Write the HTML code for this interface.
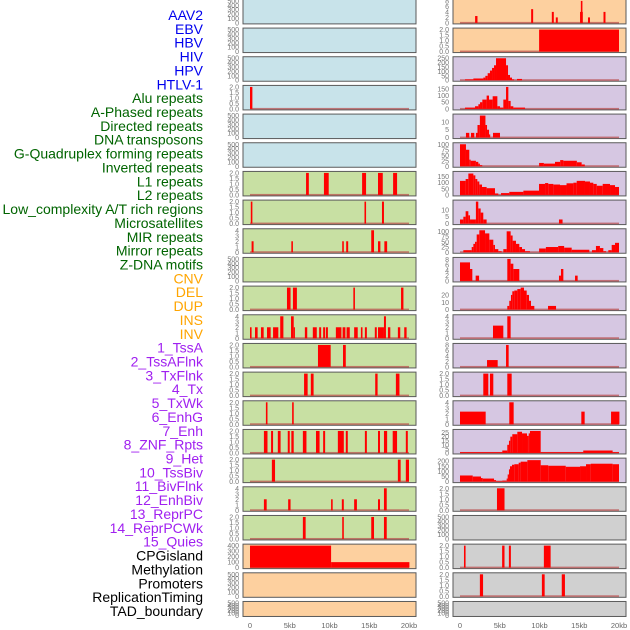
<!DOCTYPE html>
<html><head><meta charset="utf-8">
<style>
html,body{margin:0;padding:0;background:#fff;}
svg{display:block;font-family:"Liberation Sans",sans-serif;}
</style></head>
<body>
<svg id="chart" width="630" height="630" viewBox="0 0 630 630" xmlns="http://www.w3.org/2000/svg"></svg>
<script>
const trackLabels = ["AAV2","EBV","HBV","HIV","HPV","HTLV-1","Alu repeats","A-Phased repeats","Directed repeats","DNA transposons","G-Quadruplex forming repeats","Inverted repeats","L1 repeats","L2 repeats","Low_complexity A/T rich regions","Microsatellites","MIR repeats","Mirror repeats","Z-DNA motifs","CNV","DEL","DUP","INS","INV","1_TssA","2_TssAFlnk","3_TxFlnk","4_Tx","5_TxWk","6_EnhG","7_Enh","8_ZNF_Rpts","9_Het","10_TssBiv","11_BivFlnk","12_EnhBiv","13_ReprPC","14_ReprPCWk","15_Quies","CPGisland","Methylation","Promoters","ReplicationTiming","TAD_boundary"];
const labelColors = ["#0000ee","#0000ee","#0000ee","#0000ee","#0000ee","#0000ee","#006400","#006400","#006400","#006400","#006400","#006400","#006400","#006400","#006400","#006400","#006400","#006400","#006400","#ffa500","#ffa500","#ffa500","#ffa500","#ffa500","#a020f0","#a020f0","#a020f0","#a020f0","#a020f0","#a020f0","#a020f0","#a020f0","#a020f0","#a020f0","#a020f0","#a020f0","#a020f0","#a020f0","#a020f0","#000","#000","#000","#000","#000"];
const xTickValues = [0,5,10,15,20];
const xTickLabels = ["0","5kb","10kb","15kb","20kb"];

const leftBg = ["b","b","b","b","b","b","g","g","g","g","g","g","g","g","g","g","g","g","g","p","p","p"];
const rightBg = ["p","p","v","v","v","v","v","v","v","v","v","v","v","v","v","v","v","n","n","n","n","n"];

const T500 = [0,100,200,300,400,500];
const T2 = [0,0.5,1,1.5,2];
const T4 = [0,1,2,3,4];
const leftTicks = [T500,T500,T500,T2,T500,T500,T2,T2,T4,T500,T2,T4,T2,T2,T2,T2,T2,T4,T2,[0,100,200,300,400],T500,T500];
const leftYmax = [500,500,500,2,500,500,2,2,4,500,2,4,2,2,2,2,2,4,2,400,500,500];
const rightTicks = [[0,2,4,6,8],T2,[0,50,100,150,200,250],[0,50,100,150],[0,5,10],[0,25,50,75,100],[0,50,100,150],[0,5,10],[0,25,50,75,100],[0,2,4,6,8],[0,10,20],T4,[0,2,4,6,8],T2,T4,[0,5,10,15,20,25],[0,50,100,150,200],T2,T500,T2,T2,T500];
const rightYmax = [8,2,250,165,14,100,180,16,105,8.3,30,4,8,2,4,27,215,2,500,2,2,500];

const leftSegments = [
 [],[],[],
 [[0,0.3,2]],
 [],[],
 [[7.05,7.4,2],[9.3,9.9,2],[14.1,14.6,2],[16.1,16.7,2],[18.0,18.5,2]],
 [[0.1,0.3,2],[14.4,14.6,2],[16.6,16.85,2]],
 [[0.2,0.45,2],[5.2,5.4,2],[11.6,11.8,2],[12.1,12.35,2],[15.25,15.6,4],[16.1,16.4,2],[16.9,17.25,2]],
 [],
 [[4.65,5.1,2],[5.4,5.9,2],[13.0,13.2,2],[19.0,19.3,2]],
 [[0,0.2,2],[0.63,0.96,2],[1.38,1.72,2],[2.14,2.6,2],[2.9,3.56,2],[3.8,4.2,4],[5.16,5.5,4],[5.5,5.58,2],[6.9,7.2,2],[7.9,8.4,2],[8.7,8.95,2],[9.2,9.45,2],[9.55,9.8,2],[10.8,11.5,2],[11.65,12.0,2],[12.15,12.55,2],[13.1,13.55,2],[13.95,14.15,2],[14.45,14.7,2],[15.7,15.95,2],[16.1,16.85,2],[16.85,17.1,4],[17.35,17.65,2],[18.6,18.9,2],[19.4,19.7,2]],
 [[8.55,10.15,2],[11.7,12.05,2]],
 [[6.8,7.25,2],[7.65,8.0,2],[15.75,16.05,2],[18.35,18.8,2]],
 [[2.0,2.2,2],[5.3,5.5,2]],
 [[1.75,2.2,2],[2.65,2.9,2],[3.5,3.85,2],[4.75,5.0,2],[5.2,5.5,2],[6.65,7.1,2],[8.3,8.75,2],[9.2,9.45,2],[11.05,11.8,2],[12.05,12.3,2],[14.45,14.7,2],[16.1,16.35,2],[16.85,17.25,2],[17.95,18.5,2],[19.6,19.85,2]],
 [[2.75,3.15,2],[18.6,18.95,2],[19.6,20.0,2]],
 [[1.75,2.1,2],[4.8,5.1,2],[10.2,10.4,2],[11.55,11.8,2],[13.1,13.45,2],[16.1,16.35,2],[16.85,17.2,4]],
 [[6.65,7.0,2],[11.6,11.8,2],[15.25,15.6,2],[16.85,17.2,2]],
 [[0,10.2,400],[10.2,20.05,100]],
 [],[]
];

const rightSegments = [
 [[1.9,2.2,2.5],[8.95,9.2,5],[11.55,11.8,4],[12.05,12.3,2],[15.1,15.45,4],[15.2,15.4,8],[16.1,16.35,2],[18.05,18.3,4]],
 [[9.95,20.0,2]],
 [[0.63,1.68,10],[1.68,2.93,20],[2.93,3.19,30],[3.19,3.48,50],[3.48,3.77,80],[3.77,4.03,110],[4.03,4.28,140],[4.28,4.53,170],[4.53,5.79,250],[5.79,6.04,170],[6.04,6.29,60],[6.29,6.54,30],[6.54,6.8,10],[7.17,7.8,15]],
 [[0.63,1.89,10],[1.89,2.31,20],[2.31,2.52,35],[2.52,2.81,50],[2.81,3.35,70],[3.35,3.65,100],[3.65,4.11,70],[4.11,4.7,95],[4.7,5.03,20],[5.03,5.45,10],[5.45,5.79,70],[5.79,6.08,165],[6.08,6.37,60],[6.37,6.71,20],[6.71,8.18,10]],
 [[0.75,1.17,3],[1.38,1.8,3],[2.0,2.2,3],[2.2,2.5,8],[2.5,3.2,14],[3.2,3.4,8],[3.4,3.65,5],[3.65,3.8,2],[4.15,5.03,3]],
 [[0,0.75,100],[0.75,1.17,75],[1.17,1.34,30],[1.34,2.0,25],[2.0,2.3,20],[2.3,2.5,12],[2.5,2.8,5],[9.95,10.55,15],[10.55,11.95,12],[11.95,12.6,20],[12.6,13.0,28],[13.0,14.7,25],[14.7,15.3,18],[15.3,15.7,8]],
 [[0,0.71,115],[0.71,1.05,130],[1.05,1.68,175],[1.68,1.93,160],[1.93,2.18,130],[2.18,2.43,110],[2.43,2.77,85],[2.77,3.35,65],[3.35,4.4,55],[4.4,4.82,12],[5.16,6.2,15],[6.2,7.97,25],[7.97,9.94,35],[9.94,10.7,90],[10.7,11.1,97],[11.1,11.74,90],[11.74,12.58,85],[12.58,13.4,80],[13.4,14.26,95],[14.26,14.68,100],[14.68,15.72,115],[15.72,16.35,110],[16.35,16.77,100],[16.77,17.2,90],[17.2,17.95,75],[17.95,18.87,90],[18.87,19.5,80],[19.5,20.0,65]],
 [[0,0.42,3],[0.42,0.71,5],[0.71,1.05,9],[1.05,1.26,6],[1.26,2.0,3],[2.0,2.3,16],[2.3,2.6,11],[2.6,2.93,8],[2.93,3.35,3],[12.45,12.9,3]],
 [[0.42,1.47,10],[1.47,1.68,25],[1.68,1.89,40],[1.89,2.1,50],[2.1,2.43,85],[2.43,3.15,105],[3.15,3.69,90],[3.69,4.19,60],[4.19,4.4,35],[4.4,4.82,15],[4.82,5.24,5],[5.45,5.87,15],[5.87,6.37,100],[6.37,6.62,80],[6.62,7.04,55],[7.04,7.46,40],[7.46,7.8,25],[7.8,8.18,15],[8.18,8.8,5],[9.95,10.8,18],[10.8,12.35,25],[12.35,13.1,30],[13.1,14.05,22],[14.05,16.27,12],[16.6,17.1,10],[17.1,17.6,30],[17.6,18.03,20],[18.03,18.37,5],[18.66,19.08,10],[19.08,19.5,35],[19.5,20.0,45]],
 [[0,1.26,7],[1.26,1.55,4.5],[1.97,2.4,2],[5.95,6.37,8.3],[6.37,6.71,6.5],[6.71,7.46,4.5],[12.45,12.7,2],[12.7,13.0,4.5],[14.47,14.8,2]],
 [[5.95,6.2,5],[6.2,6.41,12],[6.41,6.58,20],[6.58,6.83,25],[6.83,7.21,26],[7.21,7.63,28],[7.63,8.05,30],[8.05,8.39,26],[8.39,8.68,20],[8.68,8.93,12],[8.93,9.35,5],[11.07,12.08,5]],
 [[4.15,5.45,2.3],[5.95,6.37,4]],
 [[3.4,4.74,2.5],[5.79,6.12,8]],
 [[2.93,3.56,2],[3.77,4.19,2],[5.95,6.5,2]],
 [[0,3.23,2.3],[6.2,6.75,4],[15.26,15.68,2.3],[19.0,20.05,2.3]],
 [[0,5.32,1],[5.32,5.95,3],[5.95,6.16,10],[6.16,6.33,15],[6.33,6.58,20],[6.58,7.21,23],[7.21,7.8,26],[7.8,8.43,24],[8.43,8.64,21],[8.64,8.8,24],[8.8,10.15,27],[10.15,15.5,1],[15.5,19.2,3],[19.2,20,1]],
 [[0,1.6,60],[1.6,2.64,50],[2.64,2.85,35],[2.85,4.28,30],[4.28,4.53,15],[4.53,5.32,5],[5.32,5.87,10],[5.87,6.0,30],[6.0,6.16,70],[6.16,6.29,120],[6.29,6.54,150],[6.54,6.83,165],[6.83,7.38,170],[7.38,7.63,185],[7.63,8.47,195],[8.47,10.15,210],[10.15,11.1,160],[11.1,13.3,155],[13.3,15.1,145],[15.1,15.85,150],[15.85,16.44,170],[16.44,19.2,175],[19.2,20,170]],
 [[4.65,5.6,2]],
 [],
 [[0.5,0.7,2],[5.3,5.6,2],[6.15,6.4,2],[10.55,11.4,2]],
 [[2.5,2.9,2],[10.3,10.65,2],[12.8,13.2,2]],
 []
];

const NS = "http://www.w3.org/2000/svg";
const svg = document.getElementById("chart");
const bgColors = {b:"#c8e3ea", g:"#c8e0a3", p:"#fdd09f", v:"#d6c7e2", n:"#d0d0d0"};
function mk(tag, attrs){ const e=document.createElementNS(NS,tag); for(const k in attrs) e.setAttribute(k,attrs[k]); svg.appendChild(e); return e; }
function rowTop(i){ return -0.6 + i*28.67; }
function rowH(i){ return i===21 ? 15 : 24.5; }
function fmt(v, ticks){ return ticks===T2 ? v.toFixed(1) : String(v); }

trackLabels.forEach((t,i)=>{
  const e = mk("text",{x:203,y:(20+i*13.86).toFixed(1),"text-anchor":"end","font-size":"14",fill:labelColors[i]});
  e.textContent = t;
  
  
});

function drawCol(side, bgArr, ticksArr, ymaxArr, segArr, px, x0, tickX){
  for(let i=0;i<22;i++){
    const T=rowTop(i), H=rowH(i);
    const bg = mk("rect",{x:px,y:T,width:173,height:H,fill:bgColors[bgArr[i]],stroke:"#5a5a5a","stroke-width":1});
    
    
    const ymax = ymaxArr[i];
    const yOf = v => (T+H-1) - v/ymax*(H-2.5);
    const xOf = kb => x0 + kb*7.95;
    ticksArr[i].forEach(v=>{
      const tl = mk("text",{x:tickX,y:(yOf(v)+2.5).toFixed(1),"text-anchor":"end","font-size":"7",fill:"#777"});
      tl.textContent = fmt(v, ticksArr[i]);
      
      
    });
    const segs = segArr[i];
    if(segs.length){
      const bl = mk("rect",{x:xOf(0),y:yOf(0)-1,width:xOf(20)-xOf(0),height:1.6,fill:"#b84848",opacity:0.7});
      
      
    }
    segs.forEach(s=>{
      const xa=xOf(s[0]), xb=xOf(s[1]), yt=yOf(s[2]), yb=yOf(0);
      const r = mk("rect",{x:xa.toFixed(2),y:yt.toFixed(2),width:Math.max(1.2,xb-xa).toFixed(2),height:Math.max(0,yb-yt).toFixed(2),fill:"#ff0000"});
      
      
    });
  }
  xTickValues.forEach((v,k)=>{
    const t = mk("text",{x:(x0+v*7.95).toFixed(1),y:628,"text-anchor":"middle","font-size":"7.5",fill:"#666"});
    t.textContent = xTickLabels[k];
    
    
  });
}
drawCol("left", leftBg, leftTicks, leftYmax, leftSegments, 243, 250, 239);
drawCol("right", rightBg, rightTicks, rightYmax, rightSegments, 453, 460, 449);
</script>
</body></html>
